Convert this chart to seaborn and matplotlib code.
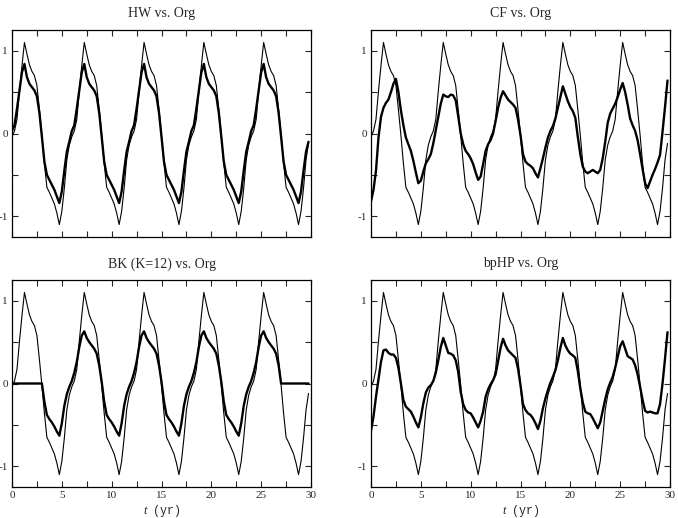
import matplotlib
matplotlib.use("Agg")
import matplotlib.pyplot as plt
import numpy as np
import seaborn as sns
from matplotlib.ticker import MultipleLocator

# quarterly time axis, years
t = np.arange(120) * 0.25

# original series (thin line), one row per 6-year cycle
org = np.array([
    -0.04, 0.03, 0.17, 0.51, 0.82, 1.10, 0.96, 0.83, 0.75, 0.70, 0.58, 0.29,
    -0.02, -0.36, -0.65, -0.71, -0.78, -0.85, -0.96, -1.10, -0.94, -0.66, -0.32, -0.14,
    -0.04, 0.03, 0.17, 0.51, 0.82, 1.10, 0.96, 0.83, 0.75, 0.70, 0.58, 0.29,
    -0.02, -0.36, -0.65, -0.71, -0.78, -0.85, -0.96, -1.10, -0.94, -0.66, -0.32, -0.14,
    -0.04, 0.03, 0.17, 0.51, 0.82, 1.10, 0.96, 0.83, 0.75, 0.70, 0.58, 0.29,
    -0.02, -0.36, -0.65, -0.71, -0.78, -0.85, -0.96, -1.10, -0.94, -0.66, -0.32, -0.14,
    -0.04, 0.03, 0.17, 0.51, 0.82, 1.10, 0.96, 0.83, 0.75, 0.70, 0.58, 0.29,
    -0.02, -0.36, -0.65, -0.71, -0.78, -0.85, -0.96, -1.10, -0.94, -0.66, -0.32, -0.14,
    -0.04, 0.03, 0.17, 0.51, 0.82, 1.10, 0.96, 0.83, 0.75, 0.70, 0.58, 0.29,
    -0.02, -0.36, -0.65, -0.71, -0.78, -0.85, -0.96, -1.10, -0.94, -0.66, -0.32, -0.12,
])

hw = np.array([
    0.03, 0.10, 0.30, 0.52, 0.74, 0.84, 0.68, 0.60, 0.56, 0.52, 0.45, 0.25,
    -0.04, -0.34, -0.50, -0.56, -0.62, -0.68, -0.76, -0.84, -0.70, -0.45, -0.22, -0.10,
    0.03, 0.10, 0.30, 0.52, 0.74, 0.84, 0.68, 0.60, 0.56, 0.52, 0.45, 0.25,
    -0.04, -0.34, -0.50, -0.56, -0.62, -0.68, -0.76, -0.84, -0.70, -0.45, -0.22, -0.10,
    0.03, 0.10, 0.30, 0.52, 0.74, 0.84, 0.68, 0.60, 0.56, 0.52, 0.45, 0.25,
    -0.04, -0.34, -0.50, -0.56, -0.62, -0.68, -0.76, -0.84, -0.70, -0.45, -0.22, -0.10,
    0.03, 0.10, 0.30, 0.52, 0.74, 0.84, 0.68, 0.60, 0.56, 0.52, 0.45, 0.25,
    -0.04, -0.34, -0.50, -0.56, -0.62, -0.68, -0.76, -0.84, -0.70, -0.45, -0.22, -0.10,
    0.03, 0.10, 0.30, 0.52, 0.74, 0.84, 0.68, 0.60, 0.56, 0.52, 0.45, 0.25,
    -0.04, -0.34, -0.50, -0.56, -0.62, -0.68, -0.76, -0.84, -0.70, -0.45, -0.22, -0.10,
])

cf = np.array([
    -0.82, -0.68, -0.45, -0.05, 0.20, 0.31, 0.37, 0.41, 0.50, 0.60, 0.66, 0.50,
    0.28, 0.10, -0.05, -0.13, -0.21, -0.33, -0.47, -0.60, -0.57, -0.46, -0.36, -0.31,
    -0.25, -0.12, 0.04, 0.20, 0.36, 0.47, 0.45, 0.44, 0.47, 0.46, 0.40, 0.21,
    0.00, -0.13, -0.21, -0.25, -0.30, -0.37, -0.47, -0.56, -0.52, -0.37, -0.21, -0.13,
    -0.08, 0.00, 0.15, 0.31, 0.43, 0.51, 0.46, 0.41, 0.38, 0.35, 0.31, 0.17,
    -0.02, -0.25, -0.34, -0.37, -0.39, -0.42, -0.48, -0.53, -0.42, -0.30, -0.17, -0.05,
    0.03, 0.09, 0.18, 0.31, 0.44, 0.57, 0.48, 0.39, 0.32, 0.27, 0.19, -0.04,
    -0.25, -0.40, -0.46, -0.48, -0.46, -0.44, -0.46, -0.48, -0.44, -0.30, -0.10, 0.13,
    0.24, 0.30, 0.36, 0.44, 0.53, 0.61, 0.50, 0.35, 0.18, 0.10, 0.03, -0.08,
    -0.25, -0.43, -0.60, -0.66, -0.58, -0.50, -0.43, -0.35, -0.26, 0.02, 0.32, 0.64,
])

bk = np.array([
    0.00, 0.00, 0.00, 0.00, 0.00, 0.00, 0.00, 0.00, 0.00, 0.00, 0.00, 0.00,
    0.00, -0.22, -0.38, -0.43, -0.47, -0.52, -0.58, -0.63, -0.48, -0.27, -0.13, -0.04,
    0.03, 0.13, 0.26, 0.44, 0.58, 0.63, 0.55, 0.50, 0.46, 0.42, 0.36, 0.22,
    0.02, -0.22, -0.38, -0.43, -0.47, -0.52, -0.58, -0.63, -0.48, -0.27, -0.13, -0.04,
    0.03, 0.13, 0.26, 0.44, 0.58, 0.63, 0.55, 0.50, 0.46, 0.42, 0.36, 0.22,
    0.02, -0.22, -0.38, -0.43, -0.47, -0.52, -0.58, -0.63, -0.48, -0.27, -0.13, -0.04,
    0.03, 0.13, 0.26, 0.44, 0.58, 0.63, 0.55, 0.50, 0.46, 0.42, 0.36, 0.22,
    0.02, -0.22, -0.38, -0.43, -0.47, -0.52, -0.58, -0.63, -0.48, -0.27, -0.13, -0.04,
    0.03, 0.13, 0.26, 0.44, 0.58, 0.63, 0.55, 0.50, 0.46, 0.42, 0.36, 0.22,
    0.00, 0.00, 0.00, 0.00, 0.00, 0.00, 0.00, 0.00, 0.00, 0.00, 0.00, 0.00,
])

bphp = np.array([
    -0.57, -0.40, -0.16, 0.05, 0.26, 0.40, 0.41, 0.37, 0.35, 0.35, 0.31, 0.19,
    0.00, -0.20, -0.28, -0.31, -0.34, -0.40, -0.47, -0.53, -0.41, -0.24, -0.11, -0.05,
    -0.02, 0.03, 0.13, 0.28, 0.44, 0.55, 0.46, 0.37, 0.36, 0.34, 0.28, 0.14,
    -0.10, -0.25, -0.32, -0.35, -0.36, -0.41, -0.47, -0.53, -0.45, -0.34, -0.16, -0.07,
    -0.01, 0.04, 0.11, 0.27, 0.43, 0.54, 0.46, 0.40, 0.37, 0.34, 0.31, 0.18,
    -0.02, -0.25, -0.32, -0.36, -0.38, -0.42, -0.48, -0.55, -0.45, -0.30, -0.18, -0.08,
    0.01, 0.08, 0.16, 0.28, 0.43, 0.55, 0.46, 0.40, 0.36, 0.34, 0.31, 0.15,
    -0.06, -0.23, -0.34, -0.36, -0.37, -0.42, -0.48, -0.54, -0.47, -0.33, -0.19, -0.07,
    0.01, 0.08, 0.19, 0.32, 0.45, 0.51, 0.42, 0.33, 0.31, 0.29, 0.22, 0.11,
    -0.04, -0.20, -0.33, -0.35, -0.34, -0.35, -0.36, -0.36, -0.25, 0.00, 0.30, 0.62,
])

titles = ["HW vs. Org", "CF vs. Org", "BK (K=12) vs. Org", "bpHP vs. Org"]
filtered = [hw, cf, bk, bphp]

sns.set_style("ticks")
plt.rcParams["font.family"] = ["Liberation Serif", "DejaVu Serif"]
plt.rcParams["axes.unicode_minus"] = False

fig = plt.figure(figsize=(6.78, 5.18), dpi=100)

W, H = 678, 518
# axes boxes in pixels: left, top, right, bottom
boxes = [(12, 30, 311, 237), (371, 30, 670, 237),
         (12, 280, 311, 487), (371, 280, 670, 487)]

for i, (box, title, y) in enumerate(zip(boxes, titles, filtered)):
    l, tp, r, b = box
    ax = fig.add_axes([l / W, 1 - b / H, (r - l) / W, (b - tp) / H])
    sns.lineplot(x=t, y=org, ax=ax, color="black", lw=0.8)
    sns.lineplot(x=t, y=y, ax=ax, color="black", lw=1.7)
    ax.set_xlim(0, 30)
    ax.set_ylim(-1.25, 1.25)
    ax.xaxis.set_major_locator(MultipleLocator(5))
    ax.xaxis.set_minor_locator(MultipleLocator(2.5))
    ax.yaxis.set_major_locator(MultipleLocator(1))
    ax.yaxis.set_minor_locator(MultipleLocator(0.5))
    ax.tick_params(which="both", direction="in", top=True, right=True,
                   length=4, width=0.8, labelsize=8, pad=3)
    for sp in ax.spines.values():
        sp.set_linewidth(0.9)
        sp.set_color("black")
    ax.set_title(title, fontsize=10, pad=9)
    ax.set_xlabel("")
    ax.set_ylabel("")
    if i < 2:
        ax.tick_params(labelbottom=False)
    else:
        # axis label "t (yr)": italic t, typewriter unit
        ax.text(0.452, -0.116, "t", transform=ax.transAxes, ha="right",
                va="center", fontsize=9, style="italic")
        ax.text(0.470, -0.116, "(yr)", transform=ax.transAxes, ha="left",
                va="center", fontsize=8.5, family="Liberation Mono")

fig.savefig("out.png", dpi=100)
